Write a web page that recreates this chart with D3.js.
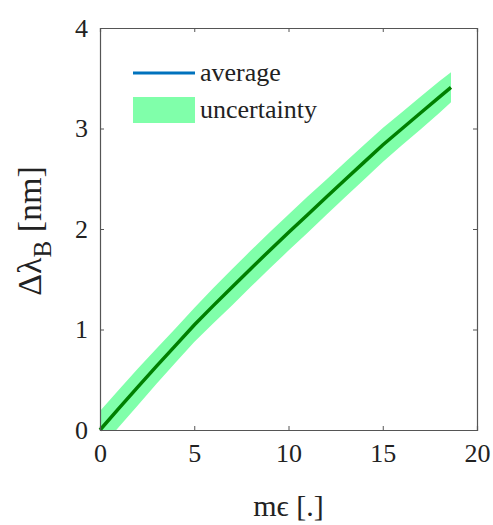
<!DOCTYPE html>
<html lang="en">
<head>
<meta charset="UTF-8">
<title>strain vs bragg shift</title>
<style>
  body { margin: 0; background: #fff; }
  svg text { font-family: "Liberation Serif", "DejaVu Serif", serif; fill: #222; }
</style>
</head>
<body>
<svg id="chart"></svg>
<script src="https://cdn.jsdelivr.net/npm/d3@7"></script>
<script>

// data
var strain   = [0, 1, 2, 3, 4, 5, 6, 7, 8, 9, 10, 11, 12, 13, 14, 15, 16, 17, 18, 18.62];
var average  = [0, 0.215, 0.427, 0.635, 0.84, 1.045, 1.235, 1.42, 1.605, 1.787, 1.965, 2.14, 2.315, 2.49, 2.663, 2.836, 2.995, 3.154, 3.313, 3.41];
var upperBnd = [0.19, 0.40, 0.61, 0.81, 1.01, 1.215, 1.41, 1.6, 1.785, 1.967, 2.145, 2.32, 2.49, 2.665, 2.835, 3.006, 3.16, 3.315, 3.47, 3.56];
var lowerBnd = [-0.19, 0.03, 0.245, 0.46, 0.67, 0.875, 1.06, 1.24, 1.425, 1.607, 1.785, 1.96, 2.14, 2.315, 2.49, 2.666, 2.83, 2.99, 3.155, 3.26];
var xTicks = [0, 5, 10, 15, 20];
var yTicks = [0, 1, 2, 3, 4];

var width = 493, height = 525;
var margin = {left: 100, right: 16, top: 28, bottom: 95};
var w = width - margin.left - margin.right;
var h = height - margin.top - margin.bottom;

var svg = d3.select('#chart').attr('width', width).attr('height', height);

var x = d3.scaleLinear().domain([0, 20]).range([0, w]);
var y = d3.scaleLinear().domain([0, 4]).range([h, 0]);

var g = svg.append('g').attr('transform', 'translate(' + margin.left + ',' + margin.top + ')');

g.append('clipPath').attr('id', 'clip')
  .append('rect').attr('width', w).attr('height', h);

var pts = strain.map(function (s, i) {
  return {x: s, avg: average[i], lo: lowerBnd[i], hi: upperBnd[i]};
});

var area = d3.area()
  .x(function (d) { return x(d.x); })
  .y0(function (d) { return y(d.lo); })
  .y1(function (d) { return y(d.hi); });

var line = d3.line()
  .x(function (d) { return x(d.x); })
  .y(function (d) { return y(d.avg); });

g.append('path').datum(pts)
  .attr('clip-path', 'url(#clip)')
  .attr('d', area)
  .attr('fill', '#80ffaa');

g.append('path').datum(pts)
  .attr('d', line)
  .attr('fill', 'none')
  .attr('stroke', '#007f00')
  .attr('stroke-width', 3.5);

// axes, ticks pointing in, box round the plot
var axisColor = '#555';

var xAxis = g.append('g').attr('transform', 'translate(0,' + h + ')')
  .call(d3.axisBottom(x).tickValues(xTicks).tickSize(-4).tickPadding(14).tickFormat(d3.format('d')));
var xTop = g.append('g')
  .call(d3.axisTop(x).tickValues(xTicks).tickSize(-4).tickFormat(''));
var yAxis = g.append('g')
  .call(d3.axisLeft(y).tickValues(yTicks).tickSize(-4).tickPadding(12).tickFormat(d3.format('d')));
var yRight = g.append('g').attr('transform', 'translate(' + w + ',0)')
  .call(d3.axisRight(y).tickValues(yTicks).tickSize(-4).tickFormat(''));

[xAxis, xTop, yAxis, yRight].forEach(function (a) {
  a.select('.domain').attr('stroke', axisColor).attr('stroke-width', 1.2);
  a.selectAll('.tick line').attr('stroke', axisColor);
  a.selectAll('.tick text').style('font-size', '26px').attr('fill', '#222');
});

// axis labels
svg.append('text')
  .attr('x', margin.left + w / 2)
  .attr('y', 516)
  .attr('text-anchor', 'middle')
  .style('font-size', '30px')
  .text('m\u03f5 [.]');

var ylab = svg.append('text')
  .attr('transform', 'translate(41,' + (margin.top + h / 2 + 2) + ') rotate(-90)')
  .attr('text-anchor', 'middle')
  .style('font-size', '34px');
ylab.append('tspan').text('\u0394\u03bb');
ylab.append('tspan').attr('dy', 10).style('font-size', '25px').text('B');
ylab.append('tspan').attr('dy', -10).text(' [nm]');

// legend
var leg = g.append('g').attr('transform', 'translate(33,45)');
leg.append('line')
  .attr('x1', 0).attr('x2', 62).attr('y1', 0).attr('y2', 0)
  .attr('stroke', '#0072bd').attr('stroke-width', 3);
leg.append('text').attr('x', 67).attr('y', 8).style('font-size', '26px').text('average');
leg.append('rect')
  .attr('x', 0).attr('y', 24).attr('width', 62).attr('height', 26)
  .attr('fill', '#80ffaa');
leg.append('text').attr('x', 67).attr('y', 45).style('font-size', '26px').text('uncertainty');

</script>
</body>
</html>
